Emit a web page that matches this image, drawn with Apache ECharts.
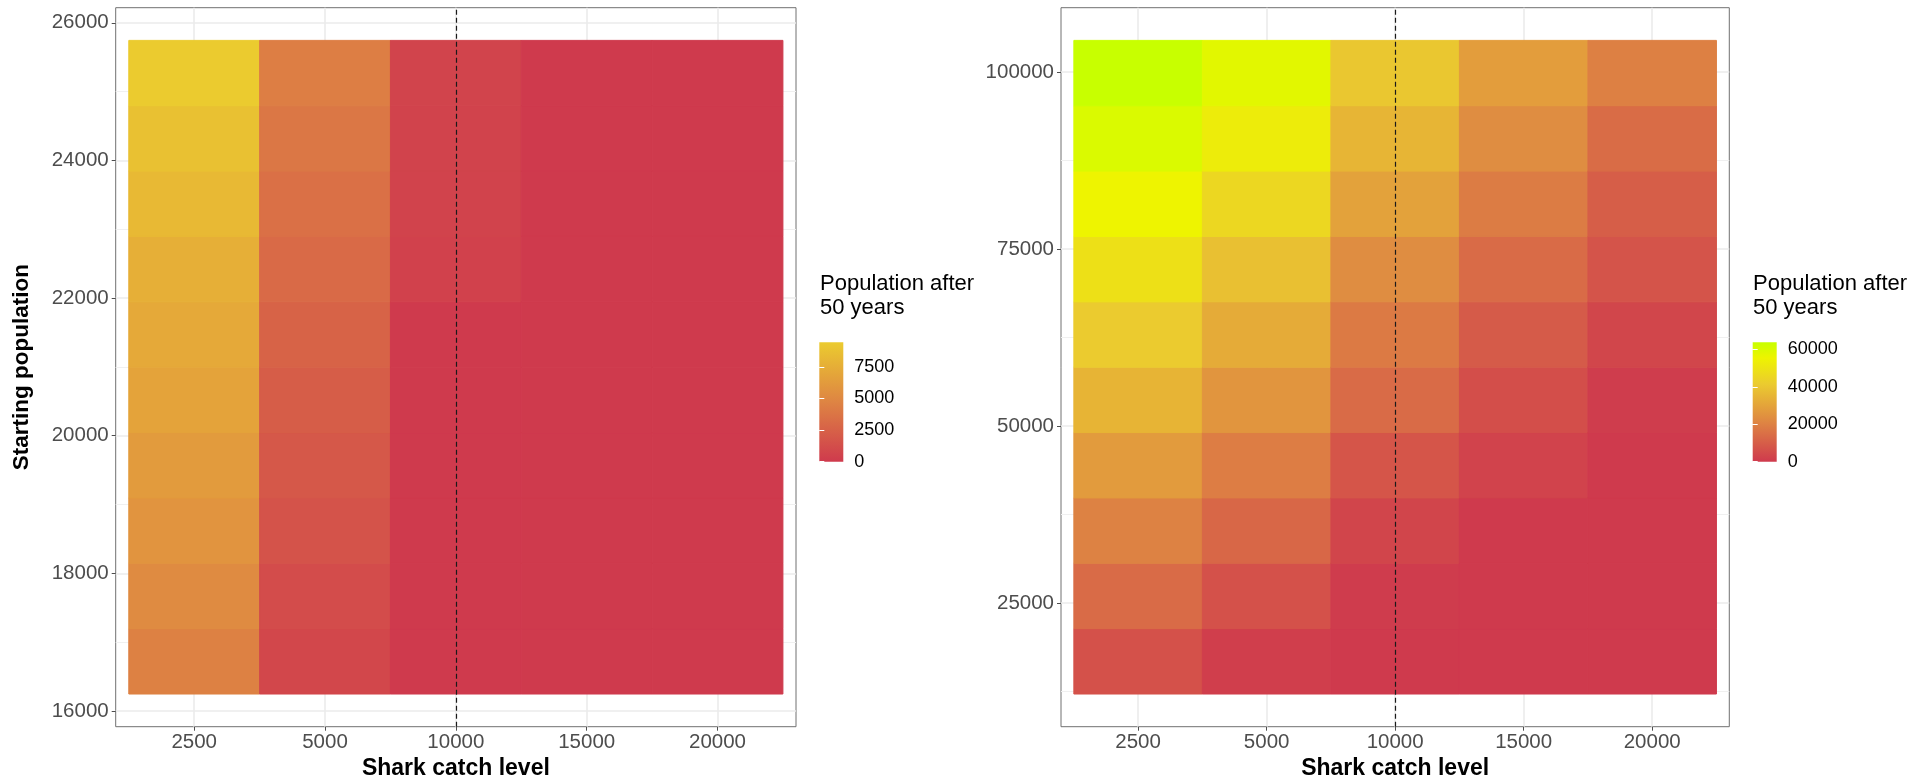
<!DOCTYPE html>
<html>
<head>
<meta charset="utf-8">
<script src="https://cdn.jsdelivr.net/npm/echarts@6/dist/echarts.min.js"></script>
<style>
  html, body { margin: 0; padding: 0; background: #fff; }
  #chart { width: 1927px; height: 780px; }
</style>
</head>
<body>
<div id="chart"></div>
<script>
// Shark catch levels (discrete categories on the x axis)
const catchLevels = [2500, 5000, 10000, 15000, 20000];
const referenceCatch = 10000;

// Left panel: starting populations and population after 50 years per catch level
const startPopSmall = [16720, 17670, 18620, 19570, 20520, 21470, 22420, 23370, 24320, 25270];
const smallCatch2500  = [4550, 5200, 5800, 6250, 6800, 7150, 7600, 8200, 8750, 9450];
const smallCatch5000  = [850, 1180, 1570, 1890, 2210, 2610, 3060, 3470, 3900, 4370];
const smallCatch10000 = [0, 0, 0, 0, 0, 0, 450, 550, 600, 650];
const smallCatch15000 = [0, 0, 0, 0, 0, 0, 0, 0, 0, 0];
const smallCatch20000 = [0, 0, 0, 0, 0, 0, 0, 0, 0, 0];
const smallTicks = [16000, 18000, 20000, 22000, 24000, 26000];
const smallMinorTicks = [17000, 19000, 21000, 23000, 25000];
const smallLegendTicks = [0, 2500, 5000, 7500];

// Right panel: starting populations and population after 50 years per catch level
const startPopLarge = [16740, 25975, 35210, 44445, 53680, 62915, 72150, 81385, 90620, 99855];
const largeCatch2500  = [6300, 13700, 20000, 27500, 34900, 41500, 48800, 55500, 60000, 63800];
const largeCatch5000  = [1100, 6300, 12600, 18900, 25800, 32300, 38300, 45700, 52700, 58000];
const largeCatch10000 = [0, 600, 3100, 7700, 13700, 18000, 23200, 29500, 35200, 40300];
const largeCatch15000 = [0, 0, 0, 2600, 5700, 9200, 13700, 18600, 23200, 28000];
const largeCatch20000 = [0, 0, 0, 0, 900, 3400, 7200, 10300, 14000, 19500];
const largeTicks = [25000, 50000, 75000, 100000];
const largeMinorTicks = [12500, 37500, 62500, 87500];
const largeLegendTicks = [0, 20000, 40000, 60000];

const smallColumns = [smallCatch2500, smallCatch5000, smallCatch10000, smallCatch15000, smallCatch20000];
const largeColumns = [largeCatch2500, largeCatch5000, largeCatch10000, largeCatch15000, largeCatch20000];

// Fill scales: [position in 0..1, colour]
const smallPalette = [[0, '#CF3A4D'], [0.5, '#DE8443'], [1, '#EBCB2F']];
const largePalette = [[0, '#CF3A4D'], [0.325, '#DE8443'], [0.65, '#EBCB2F'], [0.87, '#EEF400'], [1, '#C8FF00']];

const FONT = '"Liberation Sans", Arial, Helvetica, sans-serif';

function hexToRgb(h) {
  const n = parseInt(h.slice(1), 16);
  return [(n >> 16) & 255, (n >> 8) & 255, n & 255];
}
function ramp(anchors, n) {
  const out = [];
  for (let i = 0; i < n; i++) {
    const t = i / (n - 1);
    let k = 0;
    while (k < anchors.length - 2 && t > anchors[k + 1][0]) k++;
    const [p0, c0] = anchors[k], [p1, c1] = anchors[k + 1];
    const f = (t - p0) / (p1 - p0);
    const a = hexToRgb(c0), b = hexToRgb(c1);
    const c = a.map((v, j) => Math.round(v + (b[j] - v) * f));
    out.push('rgb(' + c.join(',') + ')');
  }
  return out;
}
function tiles(columns, rows) {
  const out = [];
  columns.forEach((vals, ci) => vals.forEach((v, ri) => out.push([ci + 1, rows[ri], v])));
  return out;
}
function resolution(rows) {
  let r = Infinity;
  for (let i = 1; i < rows.length; i++) r = Math.min(r, rows[i] - rows[i - 1]);
  return r;
}
function expandedRange(rows, step) {
  const lo = rows[0] - step / 2, hi = rows[rows.length - 1] + step / 2;
  const pad = (hi - lo) * 0.05;
  return [lo - pad, hi + pad];
}
function maxOf(columns) {
  return Math.max.apply(null, columns.map(c => Math.max.apply(null, c)));
}

const smallStep = resolution(startPopSmall);
const largeStep = resolution(startPopLarge);
const smallRange = expandedRange(startPopSmall, smallStep);
const largeRange = expandedRange(startPopLarge, largeStep);
const smallMax = maxOf(smallColumns);
const largeMax = maxOf(largeColumns);

const tickText = { fontFamily: FONT, fontSize: 20.5, color: '#4D4D4D' };
const majorGrid = { color: '#EBEBEB', width: 1.6 };
const minorGrid = { color: '#F0F0F0', width: 1 };
const tickLine = { color: '#4D4D4D', width: 1 };

function catAxis(gridIndex) {
  const pos = catchLevels.map((_, i) => i + 1);
  return {
    type: 'value', gridIndex: gridIndex,
    min: 1 - 0.6, max: catchLevels.length + 0.6,
    name: 'Shark catch level', nameLocation: 'middle', nameGap: 25,
    nameTextStyle: { fontFamily: FONT, fontSize: 23, fontWeight: 'bold', color: '#000' },
    axisLine: { show: false },
    axisTick: { show: true, length: 4, lineStyle: tickLine, customValues: pos },
    axisLabel: Object.assign({}, tickText, {
      margin: 5, customValues: pos,
      formatter: v => String(catchLevels[Math.round(v) - 1])
    }),
    splitLine: { show: true, lineStyle: majorGrid }
  };
}
function popAxis(gridIndex, range, ticks, title) {
  const ax = {
    type: 'value', gridIndex: gridIndex, position: 'left',
    min: range[0], max: range[1],
    axisLine: { show: false },
    axisTick: { show: true, length: 4, lineStyle: tickLine, customValues: ticks },
    axisLabel: Object.assign({}, tickText, { margin: 7, customValues: ticks, formatter: v => String(v) }),
    splitLine: { show: true, lineStyle: majorGrid }
  };
  if (title) {
    ax.name = title;
    ax.nameLocation = 'middle';
    ax.nameGap = 82;
    ax.nameTextStyle = { fontFamily: FONT, fontSize: 22.5, fontWeight: 'bold', color: '#000' };
  }
  return ax;
}
function minorAxis(gridIndex, range, ticks) {
  return {
    type: 'value', gridIndex: gridIndex, position: 'left',
    min: range[0], max: range[1],
    axisLine: { show: false },
    axisTick: { show: false, customValues: ticks },
    axisLabel: { show: false, customValues: ticks },
    splitLine: { show: true, lineStyle: minorGrid }
  };
}
function barAxisX(gridIndex) {
  return { type: 'value', gridIndex: gridIndex, min: 0, max: 1, show: false };
}
function barAxisY(gridIndex, max, ticks, side, withLabels) {
  return {
    type: 'value', gridIndex: gridIndex, position: side, min: 0, max: max, z: 5,
    axisLine: { show: false },
    axisTick: { show: true, inside: true, length: 5, lineStyle: { color: '#FFFFFF', width: 1 }, customValues: ticks },
    axisLabel: withLabels
      ? { show: true, fontFamily: FONT, fontSize: 18, color: '#000', margin: 11, customValues: ticks, formatter: v => String(v) }
      : { show: false, customValues: ticks },
    splitLine: { show: false }
  };
}

function tileRenderer(step) {
  return function (params, api) {
    const x = api.value(0), y = api.value(1);
    const p0 = api.coord([x - 0.5, y + step / 2]);
    const p1 = api.coord([x + 0.5, y - step / 2]);
    const fill = api.visual('color');
    return {
      type: 'rect',
      shape: { x: p0[0], y: p0[1], width: p1[0] - p0[0], height: p1[1] - p0[1] },
      style: { fill: fill, stroke: fill, lineWidth: 1 }
    };
  };
}
function barRenderer(palette) {
  return function (params, api) {
    const p0 = api.coord([0, api.value(1)]);
    const p1 = api.coord([1, 0]);
    return {
      type: 'rect',
      shape: { x: p0[0], y: p0[1], width: p1[0] - p0[0], height: p1[1] - p0[1] },
      style: {
        fill: new echarts.graphic.LinearGradient(0, 1, 0, 0,
          palette.map(([o, c]) => ({ offset: o, color: c })))
      }
    };
  };
}

const refLine = {
  silent: true, animation: false, symbol: ['none', 'none'],
  label: { show: false },
  lineStyle: { color: '#1A1A1A', type: [5, 3], width: 1.2 },
  data: [{ xAxis: catchLevels.indexOf(referenceCatch) + 1 }]
};

const legendTitle = {
  fontFamily: FONT, fontSize: 22, fontWeight: 'normal', color: '#000', lineHeight: 24
};

const chart = echarts.init(document.getElementById('chart'), null, { renderer: 'canvas' });
chart.setOption({
  animation: false,
  backgroundColor: '#FFFFFF',
  title: [
    { text: 'Population after\n50 years', left: 820, top: 272, padding: 0, textStyle: legendTitle },
    { text: 'Population after\n50 years', left: 1753, top: 272, padding: 0, textStyle: legendTitle }
  ],
  grid: [
    { left: 115.7, top: 7.7, width: 680.3, height: 719, show: true, borderColor: '#707070', borderWidth: 1, backgroundColor: '#FFFFFF', outerBoundsMode: 'none' },
    { left: 1061, top: 7.7, width: 668.3, height: 719, show: true, borderColor: '#707070', borderWidth: 1, backgroundColor: '#FFFFFF', outerBoundsMode: 'none' },
    { left: 819.3, top: 342.3, width: 24, height: 119.4, outerBoundsMode: 'none' },
    { left: 1752.7, top: 342.3, width: 24, height: 119.4, outerBoundsMode: 'none' }
  ],
  xAxis: [catAxis(0), catAxis(1), barAxisX(2), barAxisX(3)],
  yAxis: [
    popAxis(0, smallRange, smallTicks, 'Starting population'),
    minorAxis(0, smallRange, smallMinorTicks),
    popAxis(1, largeRange, largeTicks, null),
    minorAxis(1, largeRange, largeMinorTicks),
    barAxisY(2, smallMax, smallLegendTicks, 'right', true),
    barAxisY(2, smallMax, smallLegendTicks, 'left', false),
    barAxisY(3, largeMax, largeLegendTicks, 'right', true),
    barAxisY(3, largeMax, largeLegendTicks, 'left', false)
  ],
  visualMap: [
    { type: 'continuous', show: false, seriesIndex: 0, dimension: 2, min: 0, max: smallMax,
      inRange: { color: ramp(smallPalette, 101) } },
    { type: 'continuous', show: false, seriesIndex: 1, dimension: 2, min: 0, max: largeMax,
      inRange: { color: ramp(largePalette, 101) } }
  ],
  series: [
    { type: 'custom', name: 'small', xAxisIndex: 0, yAxisIndex: 0, renderItem: tileRenderer(smallStep),
      data: tiles(smallColumns, startPopSmall), markLine: refLine, z: 2 },
    { type: 'custom', name: 'large', xAxisIndex: 1, yAxisIndex: 2, renderItem: tileRenderer(largeStep),
      data: tiles(largeColumns, startPopLarge), markLine: refLine, z: 2 },
    { type: 'custom', xAxisIndex: 2, yAxisIndex: 4, renderItem: barRenderer(smallPalette),
      data: [[0, smallMax]], silent: true, z: 2 },
    { type: 'custom', xAxisIndex: 3, yAxisIndex: 6, renderItem: barRenderer(largePalette),
      data: [[0, largeMax]], silent: true, z: 2 }
  ]
});
</script>
</body>
</html>
